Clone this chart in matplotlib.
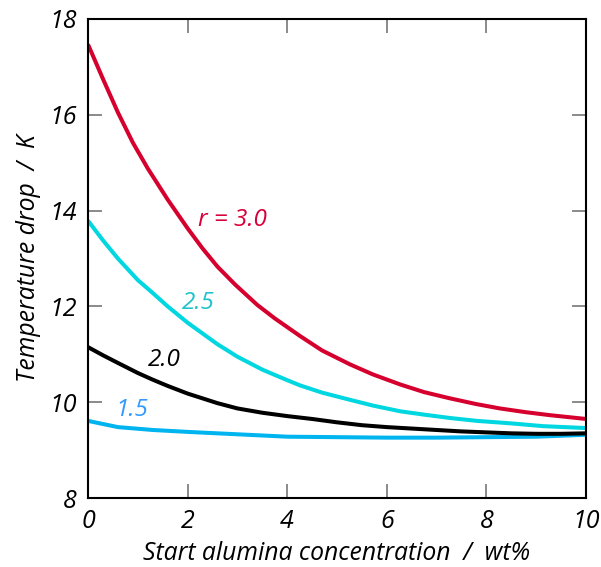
import matplotlib
matplotlib.use("Agg")
import matplotlib.pyplot as plt

# data
x_red = [0, 0.3, 0.6, 0.9, 1.2, 1.6, 2.0, 2.3, 2.6, 2.95, 3.4, 3.75, 4.26, 4.7, 5.26, 5.72, 6.27, 6.75, 7.27, 7.8, 8.27, 8.8, 9.27, 10]
y_red = [17.47, 16.75, 16.05, 15.42, 14.88, 14.23, 13.63, 13.21, 12.83, 12.46, 12.03, 11.75, 11.38, 11.08, 10.79, 10.58, 10.37, 10.21, 10.08, 9.96, 9.87, 9.79, 9.73, 9.65]

x_cyan = [0, 0.3, 0.6, 1.0, 1.3, 1.6, 2.0, 2.6, 3.0, 3.5, 4.0, 4.26, 4.7, 5.26, 5.72, 6.27, 6.75, 7.27, 7.81, 8.47, 9.14, 10]
y_cyan = [13.79, 13.38, 13.00, 12.55, 12.28, 12.00, 11.66, 11.21, 10.95, 10.68, 10.46, 10.35, 10.20, 10.05, 9.93, 9.81, 9.74, 9.67, 9.61, 9.56, 9.50, 9.46]

x_black = [0, 0.3, 0.6, 1.0, 1.3, 1.6, 2.0, 2.6, 3.0, 3.5, 4.0, 4.5, 5.0, 5.5, 6.0, 6.5, 7.0, 7.5, 8.0, 8.5, 9.0, 9.5, 10]
y_black = [11.15, 10.98, 10.82, 10.61, 10.47, 10.34, 10.18, 9.98, 9.87, 9.78, 9.71, 9.65, 9.58, 9.52, 9.48, 9.45, 9.42, 9.39, 9.37, 9.35, 9.34, 9.34, 9.35]

x_blue = [0, 0.6, 1.3, 2.0, 3.0, 4.0, 5.0, 6.0, 7.0, 8.0, 9.0, 9.5, 10]
y_blue = [9.61, 9.48, 9.42, 9.38, 9.33, 9.28, 9.27, 9.26, 9.26, 9.27, 9.28, 9.30, 9.32]

xticks = [0, 2, 4, 6, 8, 10]
yticks = [8, 10, 12, 14, 16, 18]

FONT = "Open Sans"
plt.rcParams["font.family"] = [FONT, "DejaVu Sans"]

fig = plt.figure(figsize=(6.01, 5.67), dpi=100)
ax = fig.add_axes([88/601, 1-498/567, (586-88)/601, (498-19)/567])

c_red = "#D6002F"
c_cyan = "#00D7E0"
c_black = "#000000"
c_blue = "#00B4F0"

lw = 2.9
ax.plot(x_blue, y_blue, color=c_blue, lw=lw, solid_capstyle="butt", solid_joinstyle="round")
ax.plot(x_black, y_black, color=c_black, lw=lw, solid_capstyle="butt", solid_joinstyle="round")
ax.plot(x_cyan, y_cyan, color=c_cyan, lw=lw, solid_capstyle="butt", solid_joinstyle="round")
ax.plot(x_red, y_red, color=c_red, lw=lw, solid_capstyle="butt", solid_joinstyle="round")

ax.set_xlim(0, 10)
ax.set_ylim(8, 18)
ax.set_xticks(xticks)
ax.set_yticks(yticks)
tfs = 18
ax.set_xticklabels([str(t) for t in xticks], fontsize=tfs, style="italic")
ax.set_yticklabels([str(t) for t in yticks], fontsize=tfs, style="italic")
ax.tick_params(direction="in", length=10, width=1.2, color="#777777",
               top=True, right=True, pad=8)
for s in ax.spines.values():
    s.set_linewidth(1.5)
    s.set_color("black")

ax.set_xlabel("Start alumina concentration  /  wt%", fontsize=17.8, style="italic", labelpad=5)
ax.set_ylabel("Temperature drop  /  K", fontsize=17.8, style="italic", labelpad=6)

lab_fs = 17.5
ax.text(2.91, 13.8, "r = 3.0", color="#D6003A", fontsize=lab_fs, style="italic", ha="center", va="center")
ax.text(2.21, 12.07, "2.5", color="#1EC3CC", fontsize=lab_fs, style="italic", ha="center", va="center")
ax.text(1.53, 10.88, "2.0", color="black", fontsize=lab_fs, style="italic", ha="center", va="center")
ax.text(0.88, 9.84, "1.5", color="#3399FF", fontsize=lab_fs, style="italic", ha="center", va="center")

fig.savefig("out.png", dpi=100)
